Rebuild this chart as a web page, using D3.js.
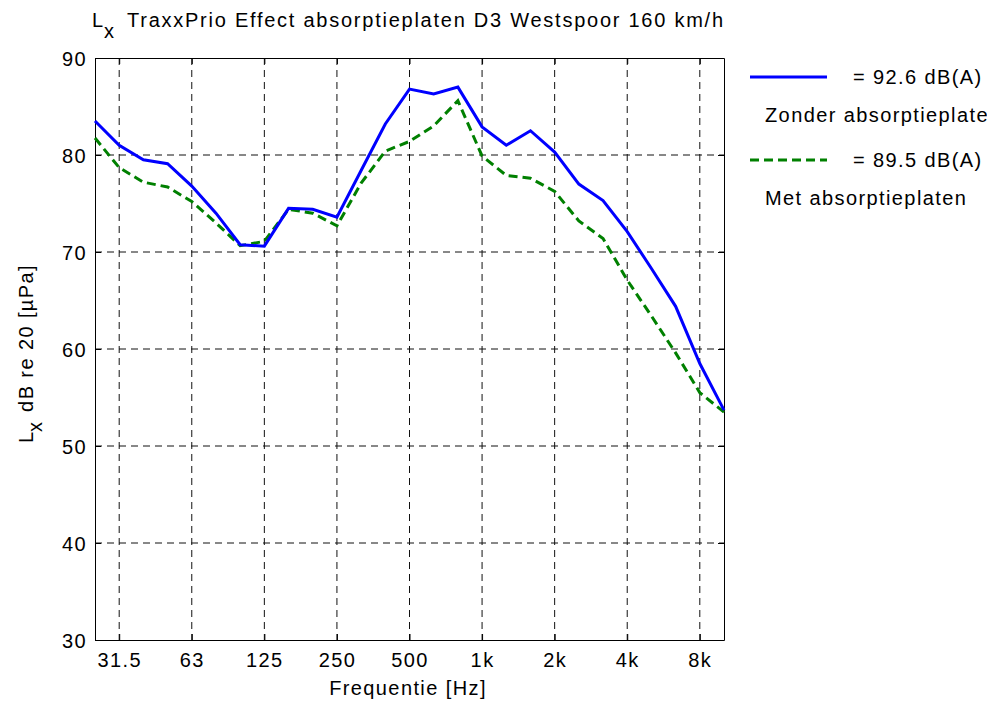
<!DOCTYPE html>
<html>
<head>
<meta charset="utf-8">
<script src="https://cdn.jsdelivr.net/npm/d3@7"></script>
<style>
  html, body { margin: 0; padding: 0; background: #fff; }
  svg text { font-family: "Liberation Sans", Arial, sans-serif; fill: #000; }
</style>
</head>
<body>
<svg id="chart" width="1005" height="706"></svg>
<script>
// ---- data ----
const bands = ["25","31.5","40","50","63","80","100","125","160","200","250","315","400","500","630","800","1k","1.25k","1.6k","2k","2.5k","3.15k","4k","5k","6.3k","8k","10k"];
const zonder = [83.5,81.0,79.5,79.1,76.8,74.0,70.75,70.6,74.5,74.4,73.6,78.4,83.2,86.8,86.3,87.0,82.9,81.0,82.5,80.3,77.0,75.3,72.1,68.3,64.4,58.5,53.7];
const met = [81.75,78.7,77.2,76.7,75.2,73.0,70.65,71.1,74.4,74.0,72.7,77.1,80.4,81.4,83.0,85.6,79.9,77.9,77.6,76.25,73.2,71.4,67.1,63.4,59.6,55.5,53.5];
const xTickLabels = ["31.5","63","125","250","500","1k","2k","4k","8k"];
const yTicks = [30,40,50,60,70,80,90];
const legendLabels = ["= 92.6 dB(A)", "= 89.5 dB(A)"];
const legendNames = ["Zonder absorptieplaten", "Met absorptieplaten"];

// ---- layout ----
const L = 95, R = 724, T = 58, B = 640;
const svg = d3.select("#chart");
svg.append("defs").append("clipPath").attr("id","figclip")
  .append("rect").attr("x",0).attr("y",0).attr("width",987).attr("height",706);
const g = svg.append("g").attr("clip-path","url(#figclip)");

const x = d3.scaleLinear().domain([0, bands.length - 1]).range([L, R]);
const y = d3.scaleLinear().domain([30, 90]).range([B, T]);
const xTickIdx = xTickLabels.map(l => bands.indexOf(l));

const FS = 20, LS = "1.4px";

// grid
const grid = g.append("g").attr("stroke","#111").attr("stroke-width",1).attr("stroke-dasharray","7,5").attr("fill","none");
xTickIdx.forEach(i => grid.append("line").attr("x1",x(i)).attr("x2",x(i)).attr("y1",T).attr("y2",B));
yTicks.filter(v => v > 30 && v < 90).forEach(v => grid.append("line").attr("x1",L).attr("x2",R).attr("y1",y(v)).attr("y2",y(v)));

// axes via d3 axes (inner ticks on all sides)
const axB = g.append("g").attr("transform",`translate(0,${B})`)
  .call(d3.axisBottom(x).tickValues(xTickIdx).tickFormat(i => bands[i]).tickSizeInner(-6).tickSizeOuter(0).tickPadding(14));
const axT = g.append("g").attr("transform",`translate(0,${T})`)
  .call(d3.axisTop(x).tickValues(xTickIdx).tickFormat("").tickSizeInner(-6).tickSizeOuter(0));
const axL = g.append("g").attr("transform",`translate(${L},0)`)
  .call(d3.axisLeft(y).tickValues(yTicks).tickSizeInner(-6).tickSizeOuter(0).tickPadding(14));
const axR = g.append("g").attr("transform",`translate(${R},0)`)
  .call(d3.axisRight(y).tickValues(yTicks).tickFormat("").tickSizeInner(-6).tickSizeOuter(0));
[axB,axT,axL,axR].forEach(a => {
  a.select(".domain").attr("stroke","#000").attr("stroke-width",1);
  a.selectAll(".tick line").attr("stroke","#000");
  a.selectAll("text").attr("font-size",FS).attr("letter-spacing",LS)
    .attr("font-family","'Liberation Sans', Arial, sans-serif").attr("fill","#000");
});
axB.selectAll(".tick text").attr("dy","0.71em").attr("y",13);
axL.selectAll(".tick text").attr("x",-8).attr("dy","0.35em");

// lines
const line = d3.line().x((d,i) => x(i)).y(d => y(d));
g.append("path").datum(met).attr("d",line).attr("fill","none")
  .attr("stroke","#008000").attr("stroke-width",3).attr("stroke-dasharray","9,5");
g.append("path").datum(zonder).attr("d",line).attr("fill","none")
  .attr("stroke","#0000ff").attr("stroke-width",3);

// title
g.append("text").attr("x",92).attr("y",27).attr("font-size",FS).text("L");
g.append("text").attr("x",104).attr("y",38).attr("font-size",FS).text("x");
g.append("text").attr("x",127).attr("y",27).attr("font-size",FS)
  .attr("textLength",596).attr("lengthAdjust","spacing")
  .text("TraxxPrio Effect absorptieplaten D3 Westspoor 160 km/h");

// x label
g.append("text").attr("x",408).attr("y",695).attr("text-anchor","middle")
  .attr("font-size",FS).attr("letter-spacing",LS).text("Frequentie [Hz]");

// y label
const yl = g.append("text").attr("transform","translate(33,443) rotate(-90)").attr("font-size",FS);
yl.append("tspan").attr("x",0).attr("y",0).text("L");
yl.append("tspan").attr("dy",9).text("x");
yl.append("tspan").attr("dy",-9).attr("dx",10).attr("letter-spacing",LS).text("dB re 20 [µPa]");

// legend
const lg = g.append("g");
const legY = [77, 160];
const styles = [{c:"#0000ff",d:null},{c:"#008000",d:"9,5"}];
legY.forEach((ly,k) => {
  lg.append("line").attr("x1",750).attr("x2",827).attr("y1",ly).attr("y2",ly)
    .attr("stroke",styles[k].c).attr("stroke-width",3).attr("stroke-dasharray",styles[k].d);
  lg.append("text").attr("x",853).attr("y",ly+7).attr("font-size",FS).attr("letter-spacing",LS).text(legendLabels[k]);
  lg.append("text").attr("x",765).attr("y",ly+45).attr("font-size",FS).attr("letter-spacing",LS).text(legendNames[k]);
});
</script>
</body>
</html>
